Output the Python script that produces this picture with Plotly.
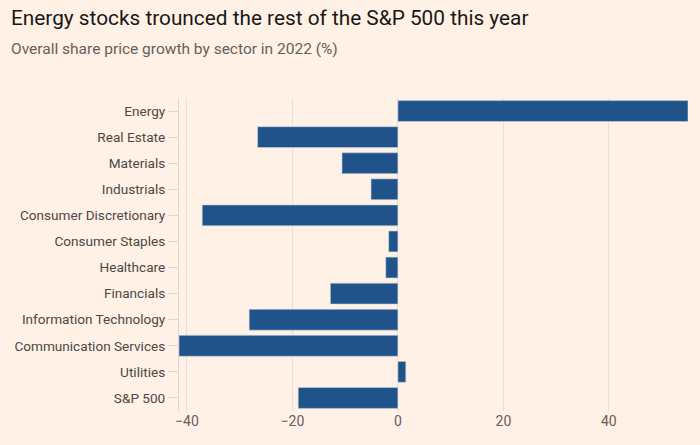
import plotly.graph_objects as go

sectors = ["Energy", "Real Estate", "Materials", "Industrials", "Consumer Discretionary",
           "Consumer Staples", "Healthcare", "Financials", "Information Technology",
           "Communication Services", "Utilities", "S&P 500"]
growth = [55.0, -26.6, -10.6, -5.1, -37.1, -1.75, -2.3, -12.8, -28.2, -41.5, 1.5, -18.9]
x_ticks = [-40, -20, 0, 20, 40]

W, H = 700, 445
L, R, T, B = 179, 12, 98, 34
pw, ph = W - L - R, H - T - B

fig = go.Figure(go.Bar(
    y=sectors, x=growth, orientation="h",
    marker=dict(color="#1f5389", line=dict(color="#c9d3df", width=0.6)),
    hoverinfo="skip",
))

def px_x(p):
    return (p - L) / pw

def px_y(p):
    return (H - B - p) / ph

fig.update_layout(
    width=W, height=H,
    margin=dict(l=L, r=R, t=T, b=B),
    paper_bgcolor="#fff1e5", plot_bgcolor="#fff1e5",
    bargap=0.2, showlegend=False,
    font=dict(family="Roboto", color="#4d4845"),
    xaxis=dict(range=[-41.5, 55.0], tickvals=x_ticks, showgrid=True,
               gridcolor="#eadfd5", gridwidth=1, zeroline=False,
               tickfont=dict(size=14, color="#66605c"), ticks="", showline=False),
    yaxis=dict(autorange="reversed", tickfont=dict(size=13.6, color="#4d4845"),
               ticks="outside", ticklen=10, tickcolor="#e3d7cc", showline=True,
               linecolor="#e3d7cc", linewidth=1, showgrid=False, zeroline=False),
    annotations=[
        dict(text="Energy stocks trounced the rest of the S&P 500 this year",
             xref="paper", yref="paper", x=px_x(9), y=px_y(18),
             xanchor="left", yanchor="middle", showarrow=False,
             font=dict(size=20.8, color="#1a1817", family="Roboto")),
        dict(text="Overall share price growth by sector in 2022 (%)",
             xref="paper", yref="paper", x=px_x(9), y=px_y(49),
             xanchor="left", yanchor="middle", showarrow=False,
             font=dict(size=15.5, color="#66605c", family="Roboto")),
    ],
)

fig.write_html("out.html", config={"displayModeBar": False},
               post_script="document.body.style.margin='0';document.body.style.background='#fff1e5';")
